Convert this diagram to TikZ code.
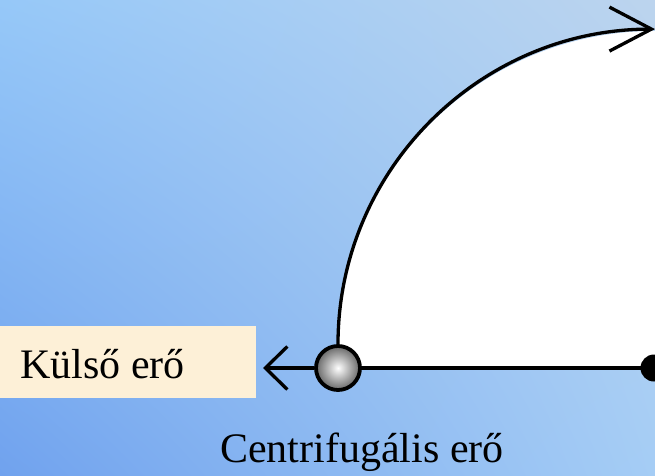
\documentclass[tikz,border=0pt]{standalone}
\usepackage{fontspec}
\setmainfont{Liberation Serif}
\usetikzlibrary{arrows.meta,shadings}
\definecolor{bgUL}{RGB}{150,200,248}
\definecolor{bgUR}{RGB}{188,212,238}
\definecolor{bgLL}{RGB}{112,162,238}
\definecolor{bgLR}{RGB}{165,205,245}
\definecolor{cream}{RGB}{253,240,215}
\tikzset{
  conn/.style={line width=3.3pt, black},
  lbl/.style={font=\fontsize{42}{50}\selectfont, inner sep=0pt},
}
\begin{document}
\begin{tikzpicture}[x=1pt,y=1pt]
\useasboundingbox (0,0) rectangle (655,475);
\shade[upper left=bgUL, upper right=bgUR, lower left=bgLL, lower right=bgLR] (0,0) rectangle (655,475);
% white sector
\fill[white] (338,107) -- (338,129) arc[start angle=180, end angle=90, x radius=317, y radius=315] -- (655,107) -- cycle;
% cream label box
\fill[cream] (0,77) rectangle (256,149);
\node[lbl, anchor=base west] (ext) at (20,97) {Külső erő};
\node[lbl, anchor=base] (cf) at (362,13) {Centrifugális erő};
% dot and ball
\node[circle, fill=black, minimum size=27pt, inner sep=0pt] (dot) at (654,107) {};
\draw[conn] (338,107) -- (dot.center);
\node[circle, draw=black, line width=3.8pt, inner color=white, outer color=black!60, minimum size=44pt, inner sep=0pt] (ball) at (338,107) {};
\coordinate (top) at (655,444);
\draw[conn, -{Straight Barb[length=42pt, width=44pt, line width=3.3pt]}] (ball.north) arc[start angle=180, end angle=90, x radius=317, y radius=315];
\coordinate (lefttip) at (263,107);
\draw[conn, -{Straight Barb[length=22pt, width=43pt, line width=3.3pt]}] (ball.west) -- (lefttip);
\end{tikzpicture}
\end{document}
